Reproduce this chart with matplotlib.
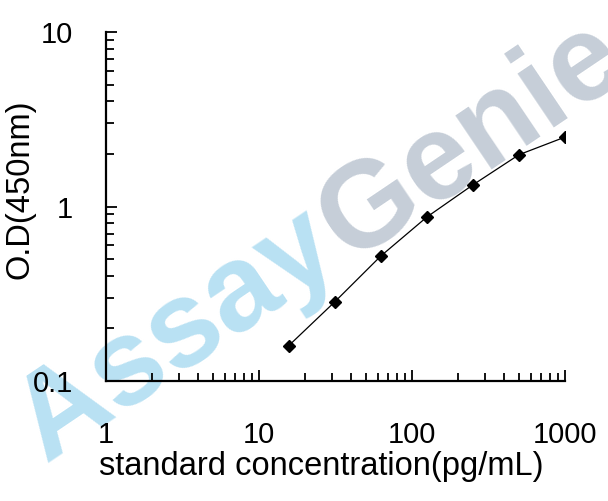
import matplotlib
matplotlib.use("Agg")
import matplotlib.pyplot as plt
from matplotlib.ticker import LogLocator, NullFormatter, FixedLocator, FixedFormatter

plt.rcParams['font.family'] = ['Liberation Sans', 'DejaVu Sans']

# standard curve data
conc = [15.6, 31.25, 62.5, 125, 250, 500, 1000]
od = [0.159, 0.284, 0.52, 0.87, 1.33, 1.98, 2.50]

x_ticks = [1, 10, 100, 1000]
x_labels = ["1", "10", "100", "1000"]
y_ticks = [0.1, 1, 10]
y_labels = ["0.1", "1", "10"]

fig = plt.figure(figsize=(6.08, 5.01), dpi=100)
W, H = 608, 501
ax = fig.add_axes([106 / W, (H - 381) / H, (565 - 106) / W, (381 - 32) / H])

# watermark (behind the axes)
wm_font = dict(fontsize=88, fontweight='bold', rotation=34, rotation_mode='anchor',
               va='baseline', transform=fig.transFigure, zorder=-5)
fig.text(345 / W, 1 - 262 / H, "Assay", color='#b9e1f3', ha='right', **wm_font)
fig.text(349 / W, 1 - 262 / H, "Genie", color='#c6ced8', ha='left', **wm_font)
ax.set_facecolor('none')

ax.plot(conc, od, color='black', lw=0.9, marker='D', markersize=6.5,
        markerfacecolor='black', markeredgecolor='black')

ax.set_xscale('log')
ax.set_yscale('log')
ax.set_xlim(1, 1000)
ax.set_ylim(0.1, 10)

ax.xaxis.set_major_locator(FixedLocator(x_ticks))
ax.xaxis.set_major_formatter(FixedFormatter(x_labels))
ax.yaxis.set_major_locator(FixedLocator(y_ticks))
ax.yaxis.set_major_formatter(FixedFormatter(y_labels))
ax.xaxis.set_minor_locator(LogLocator(base=10, subs=range(2, 10)))
ax.yaxis.set_minor_locator(LogLocator(base=10, subs=range(2, 10)))
ax.xaxis.set_minor_formatter(NullFormatter())
ax.yaxis.set_minor_formatter(NullFormatter())

ax.spines['top'].set_visible(False)
ax.spines['right'].set_visible(False)
for s in ['left', 'bottom']:
    ax.spines[s].set_linewidth(1.6)

ax.tick_params(which='major', direction='in', length=8, width=1.3, labelsize=21)
ax.tick_params(which='minor', direction='in', length=6, width=1.3)
ax.tick_params(axis='y', which='major', pad=24)
ax.tick_params(axis='x', which='major', pad=29)

ax.set_xlabel("standard concentration(pg/mL)", fontsize=23.5, va='top')
ax.xaxis.set_label_coords(0.468, -0.202)
ax.set_ylabel("O.D(450nm)", fontsize=23.5, va='center')
ax.yaxis.set_label_coords(-0.187, 0.55)

fig.savefig("out.png", dpi=100)
